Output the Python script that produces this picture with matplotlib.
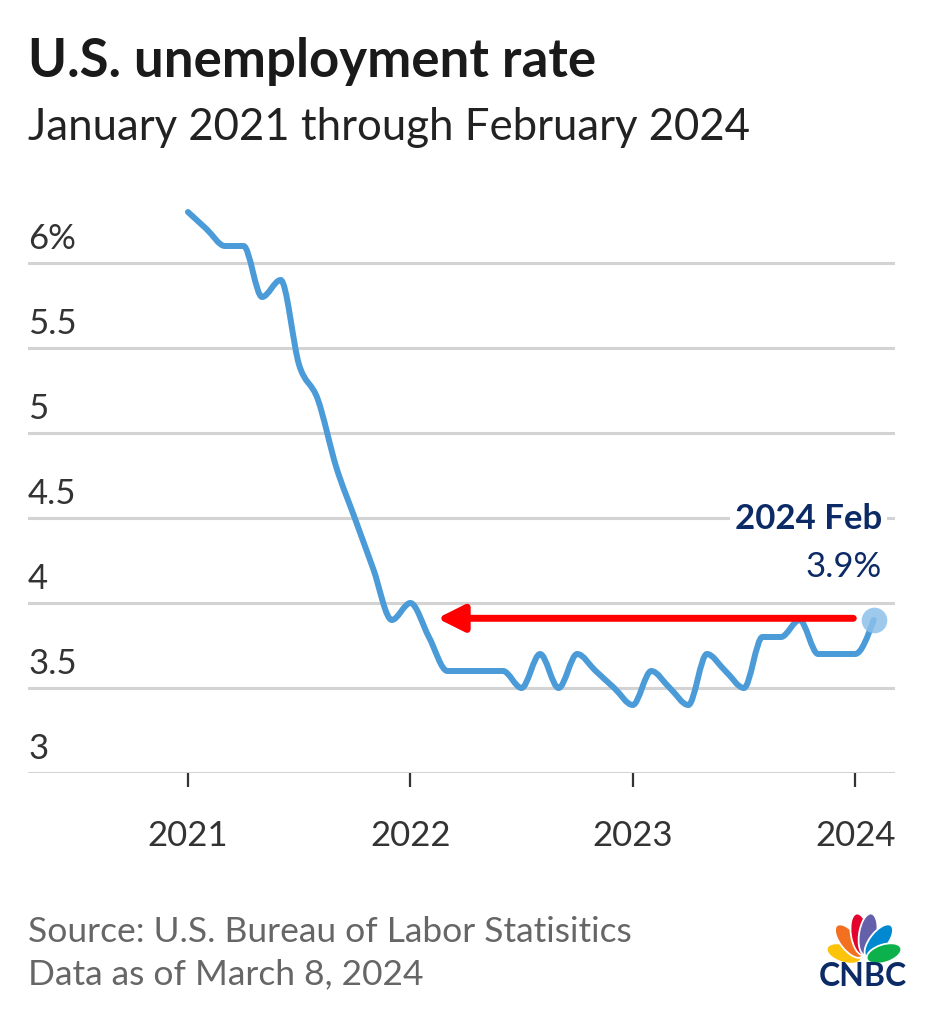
import numpy as np
import matplotlib
matplotlib.use("Agg")
import matplotlib.pyplot as plt
from matplotlib.patches import Ellipse, PathPatch
from matplotlib.path import Path

# monthly unemployment rate, Jan 2021 .. Feb 2024
rate = [6.3, 6.2, 6.1, 6.1, 5.8, 5.9, 5.4, 5.2, 4.8, 4.5, 4.2, 3.9,
        4.0, 3.8, 3.6, 3.6, 3.6, 3.6, 3.5, 3.7, 3.5, 3.7, 3.6, 3.5,
        3.4, 3.6, 3.5, 3.4, 3.7, 3.6, 3.5, 3.8, 3.8, 3.9, 3.7, 3.7,
        3.7, 3.9]
year_labels = ["2021", "2022", "2023", "2024"]
year_pos = [0, 12, 24, 36]
y_ticks = [3, 3.5, 4, 4.5, 5, 5.5, 6]
y_labels = ["3", "3.5", "4", "4.5", "5", "5.5", "6%"]
last_label = "2024 Feb"
last_value = "3.9%"
arrow_from = 35.9
arrow_to = 13.45


def monotone_path(xs, ys):
    # d3-style monotoneX curve through the points
    xs = np.asarray(xs, float)
    ys = np.asarray(ys, float)
    n = len(xs)
    h = np.diff(xs)
    s = np.diff(ys) / h
    t = np.zeros(n)
    for i in range(1, n - 1):
        p = (s[i - 1] * h[i] + s[i] * h[i - 1]) / (h[i - 1] + h[i])
        t[i] = (np.sign(s[i - 1]) + np.sign(s[i])) * min(abs(s[i - 1]), abs(s[i]), 0.5 * abs(p))
    t[0] = (3 * s[0] - t[1]) / 2
    t[-1] = (3 * s[-1] - t[-2]) / 2
    verts = [(xs[0], ys[0])]
    codes = [Path.MOVETO]
    for i in range(n - 1):
        d = h[i] / 3
        verts += [(xs[i] + d, ys[i] + t[i] * d), (xs[i + 1] - d, ys[i + 1] - t[i + 1] * d),
                  (xs[i + 1], ys[i + 1])]
        codes += [Path.CURVE4] * 3
    return Path(verts, codes)


W, H = 935, 1024
plt.rcParams['font.family'] = ['Lato', 'DejaVu Sans']
fig = plt.figure(figsize=(W / 100, H / 100), dpi=100)

navy = "#0b2a66"
blue = "#4a9bd8"
grid = "#d3d3d3"

# axes in pixel placement
L, R, T, B = 28, 895, 193, 773
ax = fig.add_axes([L / W, 1 - B / H, (R - L) / W, (B - T) / H])
x = np.arange(len(rate))
ax.set_xlim(-8.63, 38.15)
ax.set_ylim(3.0, 3.0 + (B - T) / 170)

for yt, lab in zip(y_ticks, y_labels):
    ax.axhline(yt, color=grid, lw=2.2, zorder=0)
    ax.annotate(lab, xy=(0, yt), xycoords=('axes fraction', 'data'),
                xytext=(0, 14), textcoords='offset pixels', ha='left', va='baseline',
                fontsize=25, color="#333333")

for s in ax.spines.values():
    s.set_visible(False)
ax.set_yticks([])
ax.set_xticks(year_pos)
ax.set_xticklabels(year_labels)
ax.tick_params(axis='x', length=10, width=1.6, color="#333333", labelsize=25,
               labelcolor="#333333", pad=24)

ax.add_patch(PathPatch(monotone_path(x, rate), fc='none', ec=blue, lw=4.3,
                       joinstyle='round', capstyle='round', zorder=3))
ax.scatter([x[-1]], [rate[-1]], s=340, color="#8cc0ea", alpha=0.85, zorder=4, lw=0)

ax.annotate('', xy=(arrow_to, rate[-1] + 0.01), xytext=(arrow_from, rate[-1] + 0.01),
            arrowprops=dict(arrowstyle='-|>,head_length=1.6,head_width=0.8', lw=5,
                            color='red', shrinkA=0, shrinkB=0), zorder=5)

ax.annotate(last_label, xy=(1, 4.5), xycoords=('axes fraction', 'data'),
            xytext=(-13, -11), textcoords='offset pixels', ha='right', va='baseline',
            fontsize=25, fontweight='bold', color=navy,
            bbox=dict(boxstyle='square,pad=0.15', fc='white', ec='none'))
ax.annotate(last_value, xy=(1, 4.5), xycoords=('axes fraction', 'data'),
            xytext=(-13, -59), textcoords='offset pixels', ha='right', va='baseline',
            fontsize=25, color=navy)

# titles and footer
fig.text(28 / W, 1 - 77 / H, "U.S. unemployment rate", fontsize=38, fontweight='bold',
         color="#1a1a1a", ha='left', va='baseline')
fig.text(28 / W, 1 - 140 / H, "January 2021 through February 2024", fontsize=31.5,
         color="#222222", ha='left', va='baseline')
fig.text(28 / W, 1 - 942 / H, "Source: U.S. Bureau of Labor Statisitics", fontsize=25.5,
         color="#666666", ha='left', va='baseline')
fig.text(28 / W, 1 - 984 / H, "Data as of March 8, 2024", fontsize=25.5,
         color="#666666", ha='left', va='baseline')

# CNBC peacock
lx0, ly0, lw_, lh_ = 805, 895, 125, 110
lax = fig.add_axes([lx0 / W, 1 - (ly0 + lh_) / H, lw_ / W, lh_ / H])
lax.set_xlim(lx0, lx0 + lw_)
lax.set_ylim(ly0 + lh_, ly0)
lax.axis('off')
bx, by = 864, 960
feathers = [("#fcc30b", 162, 36, 21), ("#f37021", 128, 40, 24), ("#e4032c", 99, 42, 26),
            ("#6460aa", 81, 42, 26), ("#0089d0", 52, 40, 24), ("#0db14b", 18, 36, 21)]
for col, ang, ln, r in feathers:
    cx = bx + r * np.cos(np.radians(ang))
    cy = by - r * np.sin(np.radians(ang))
    lax.add_patch(Ellipse((cx, cy), ln, 18, angle=-ang, fc=col, ec='white', lw=1.3))
lax.text(863, 986, "CNBC", ha='center', va='baseline', fontsize=23, fontweight='bold',
         color=navy)

fig.savefig("out.png", dpi=100)
